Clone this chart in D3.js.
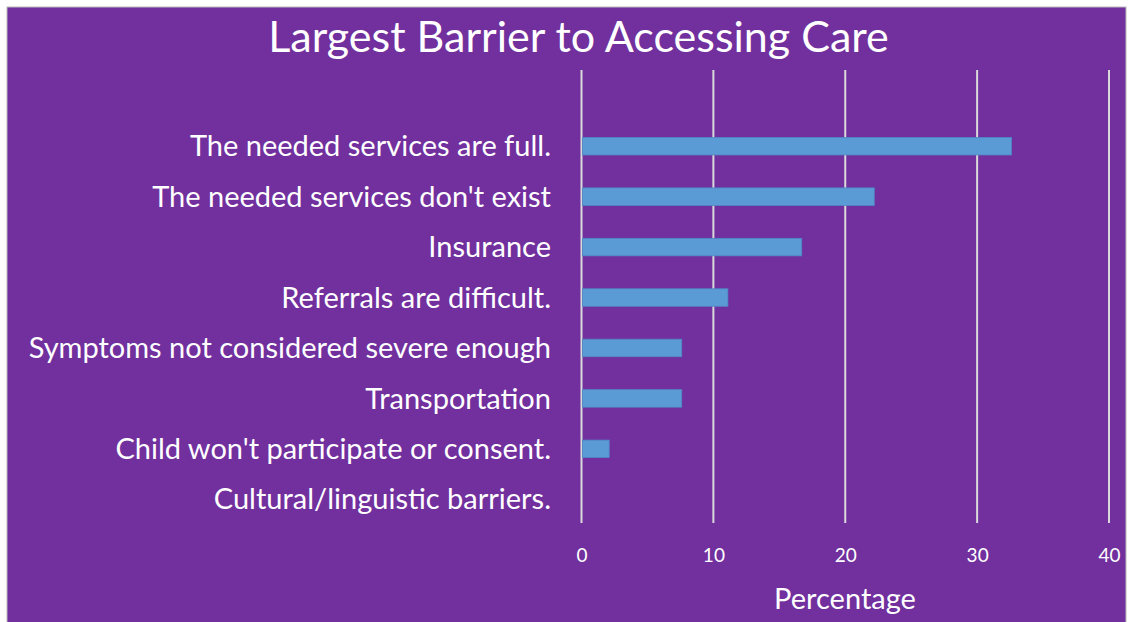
<!DOCTYPE html>
<html>
<head>
<meta charset="utf-8">
<script src="https://cdn.jsdelivr.net/npm/d3@7"></script>
<style>
  html, body { margin: 0; padding: 0; background: #ffffff; }
  svg { display: block; }
  text { font-family: Lato, "Open Sans", sans-serif; fill: #ffffff; }
</style>
</head>
<body>
<svg id="chart" width="1134" height="622"></svg>
<script>
// Survey answers, top to bottom
const categories = [
  "The needed services are full.",
  "The needed services don't exist",
  "Insurance",
  "Referrals are difficult.",
  "Symptoms not considered severe enough",
  "Transportation",
  "Child won't participate or consent.",
  "Cultural/linguistic barriers."
];
// Share of respondents (%)
const values = [32.6, 22.2, 16.7, 11.1, 7.6, 7.6, 2.1, 0];
const ticks = [0, 10, 20, 30, 40];
const title = "Largest Barrier to Accessing Care";
const xTitle = "Percentage";

const svg = d3.select("#chart");

// chart background panel
svg.append("rect")
  .attr("x", 7).attr("y", 7)
  .attr("width", 1119).attr("height", 620)
  .attr("fill", "#71309e")
  .attr("stroke", "#b9b9b9").attr("stroke-width", 1);

const x = d3.scaleLinear().domain([0, 40]).range([581.5, 1109]);
const y = d3.scaleBand().domain(categories).range([121, 524.5]).paddingInner(0.653).paddingOuter(0.3265);

const gridTop = 70, gridBottom = 523;

// vertical gridlines
svg.append("g")
  .selectAll("line")
  .data(ticks)
  .join("line")
  .attr("x1", d => x(d)).attr("x2", d => x(d))
  .attr("y1", gridTop).attr("y2", gridBottom)
  .attr("stroke", "#d9d9d9").attr("stroke-width", 2);

// bars
svg.append("g")
  .selectAll("rect")
  .data(values.map((v, i) => ({ c: categories[i], v })).filter(d => d.v > 0))
  .join("rect")
  .attr("x", x(0) + 1)
  .attr("y", d => y(d.c))
  .attr("width", d => x(d.v) - x(0) - 1)
  .attr("height", y.bandwidth())
  .attr("fill", "#5b9bd5")
  .attr("stroke", "#4f87c4").attr("stroke-width", 0.8);

// x axis tick labels
const xAxis = d3.axisBottom(x).tickValues(ticks).tickSize(0).tickPadding(0);
const gx = svg.append("g").attr("transform", `translate(0, 548)`).call(xAxis);
gx.select(".domain").remove();
gx.selectAll("text")
  .attr("font-size", 19)
  .attr("fill", "#ffffff")
  .attr("dy", "0.71em")
  .style("font-family", "Lato, 'Open Sans', sans-serif");

// category labels
const yAxis = d3.axisLeft(y).tickSize(0).tickPadding(0);
const gy = svg.append("g").attr("transform", `translate(551, 0)`).call(yAxis);
gy.select(".domain").remove();
gy.selectAll("text")
  .attr("font-size", 29)
  .attr("fill", "#ffffff")
  .attr("dy", "0.35em")
  .style("font-family", "Lato, 'Open Sans', sans-serif");

// titles
svg.append("text")
  .attr("x", 578.5).attr("y", 52)
  .attr("text-anchor", "middle")
  .attr("font-size", 43)
  .text(title);

svg.append("text")
  .attr("x", 845).attr("y", 609)
  .attr("text-anchor", "middle")
  .attr("font-size", 29)
  .text(xTitle);
</script>
</body>
</html>
